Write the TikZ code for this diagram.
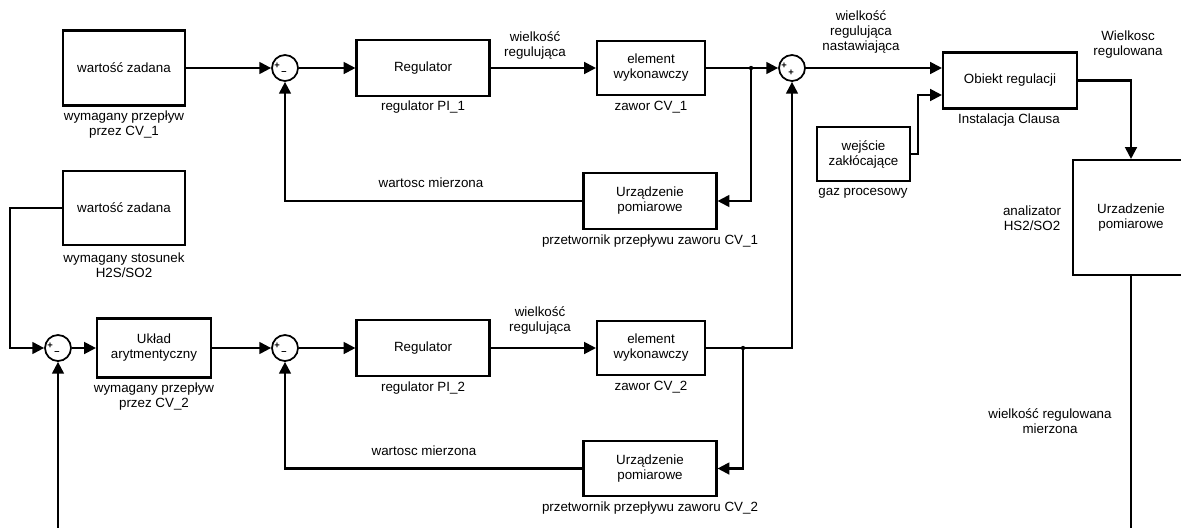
\documentclass[tikz,border=0pt]{standalone}
\usepackage{fontspec}
\setmainfont{Liberation Sans}
\usetikzlibrary{positioning, calc, arrows.meta}

\tikzset{
    block/.style={draw, line width=1.8pt, align=center, inner sep=0pt},
    sumnode/.style={draw, circle, line width=1.5pt, minimum size=0.78cm, inner sep=0pt},
    caption/.style={align=center, inner sep=0pt},
    sign/.style={font=\fontsize{8}{8}\selectfont\bfseries, inner sep=0pt},
    dotnode/.style={circle, fill, inner sep=0pt, minimum size=0.13cm},
    wire/.style={line width=1.8pt},
    arrowwire/.style={wire, -{Triangle[length=10pt, width=10pt]}},
}

\begin{document}
\begin{tikzpicture}[x=0.03cm, y=-0.03cm, font=\fontsize{11.4}{12.8}\selectfont]

    \useasboundingbox (0,0) rectangle (1181,527);
    \clip (0,0) rectangle (1181,527);
    \coordinate (bottomEdge) at (0,535);

    % ==========================================
    % UPPER LOOP: flow through CV_1
    % ==========================================
    \node[block, minimum width=3.66cm, minimum height=2.25cm] (setA) at (124,68) {wartość zadana};
    \node[sumnode] (sumA) at (285,68) {};
    \node[block, minimum width=3.99cm, minimum height=1.68cm] (regA) at (423,68) {Regulator};
    \node[block, minimum width=3.24cm, minimum height=1.62cm] (actA) at (651,68) {element\\wykonawczy};
    \node[dotnode] (jA) at (751,68) {};
    \node[block, minimum width=3.99cm, minimum height=1.68cm] (measA) at (650,201) {Urządzenie\\pomiarowe};
    \node[sumnode] (sumB) at (792,68) {};

    % signs of the summing points
    \node[sign] (sumAp) at ($(sumA)+(-8,-2)$) {+};
    \node[sign] (sumAm) at ($(sumA)+(-1,5)$) {--};
    \node[sign] (sumBp) at ($(sumB)+(-8,-2)$) {+};
    \node[sign] (sumBq) at ($(sumB)+(-1,5)$) {+};

    % captions
    \node[caption] (capSetA) at (124,125) {wymagany przepływ\\przez CV\_1};
    \node[caption] (capRegA) at (423,107) {regulator PI\_1};
    \node[caption] (capActA) at (651,107) {zawor CV\_1};
    \node[caption] (capMeasA) at (650,241) {przetwornik przepływu zaworu CV\_1};
    \node[caption] (lblUA) at (535,45) {wielkość\\regulująca};
    \node[caption] (lblMA) at (431,183) {wartosc mierzona};

    % connections
    \draw[arrowwire] (setA.east) -- (setA.east -| sumA.west);
    \draw[arrowwire] (sumA) -- (regA);
    \draw[arrowwire] (regA) -- (actA);
    \draw[wire] (actA) -- (jA);
    \draw[arrowwire] (jA) -- (sumB);
    \draw[arrowwire] (jA) |- (measA);
    \draw[arrowwire] (measA) -| (sumA);

    % ==========================================
    % PLANT AND ANALYSER
    % ==========================================
    \node[block, minimum width=4.02cm, minimum height=1.68cm] (plant) at (1010,80.5) {Obiekt regulacji};
    \node[block, minimum width=2.79cm, minimum height=1.62cm] (dist) at (863.5,154) {wejście\\zakłócające};
    \node[block, minimum width=3.48cm, minimum height=3.45cm] (analyser) at (1131,217.5) {Urzadzenie\\pomiarowe};
    \coordinate (plantIn) at ($(plant.west)+(0,14.5)$);

    \node[caption] (lblSet) at (861,32) {wielkość\\regulująca\\nastawiająca};
    \node[caption] (capPlant) at (1009,120) {Instalacja Clausa};
    \node[caption] (capDist) at (863,193) {gaz procesowy};
    \node[caption] (lblOut) at (1128,45) {Wielkosc\\regulowana};
    \node[caption] (capAnalyser) at (1032,218) {analizator\\HS2/SO2};
    \node[caption] (lblMeasOut) at (1050,421) {wielkość regulowana\\mierzona};

    \draw[arrowwire] (sumB.east) -- (sumB.east -| plant.west);
    \draw[arrowwire] (dist.east) -- ++(7,0) |- (plantIn);
    \draw[arrowwire] (plant.east) -| (analyser.north);
    \draw[wire] (analyser.south) -- (analyser.south |- bottomEdge);

    % ==========================================
    % LOWER LOOP: ratio H2S/SO2 and flow through CV_2
    % ==========================================
    \node[block, minimum width=3.66cm, minimum height=2.22cm] (setB) at (124,208) {wartość zadana};
    \node[sumnode] (sumC) at (58,348) {};
    \node[block, minimum width=3.42cm, minimum height=1.77cm] (arith) at (154,348) {Układ\\arytmentyczny};
    \node[sumnode] (sumD) at (285,348) {};
    \node[block, minimum width=3.99cm, minimum height=1.68cm] (regB) at (423,348) {Regulator};
    \node[block, minimum width=3.24cm, minimum height=1.62cm] (actB) at (651,348) {element\\wykonawczy};
    \node[dotnode] (jB) at (743,348) {};
    \node[block, minimum width=3.99cm, minimum height=1.65cm] (measB) at (650,468.5) {Urządzenie\\pomiarowe};

    \node[sign] (sumCp) at ($(sumC)+(-8,-2)$) {+};
    \node[sign] (sumCm) at ($(sumC)+(-1,5)$) {--};
    \node[sign] (sumDp) at ($(sumD)+(-8,-2)$) {+};
    \node[sign] (sumDm) at ($(sumD)+(-1,5)$) {--};

    \node[caption] (capSetB) at (124,265) {wymagany stosunek\\H2S/SO2};
    \node[caption] (capArith) at (154,397) {wymagany przepływ\\przez CV\_2};
    \node[caption] (capRegB) at (423,388) {regulator PI\_2};
    \node[caption] (capActB) at (651,387) {zawor CV\_2};
    \node[caption] (capMeasB) at (650,508) {przetwornik przepływu zaworu CV\_2};
    \node[caption] (lblUB) at (540,320) {wielkość\\regulująca};
    \node[caption] (lblMB) at (424,451) {wartosc mierzona};

    \draw[arrowwire] (setB.west) -- ++(-52,0) |- (sumC);
    \draw[arrowwire] (sumC |- bottomEdge) -- (sumC);
    \draw[arrowwire] (sumC) -- (arith);
    \draw[arrowwire] (arith) -- (sumD);
    \draw[arrowwire] (sumD) -- (regB);
    \draw[arrowwire] (regB) -- (actB);
    \draw[wire] (actB) -- (jB);
    \draw[arrowwire] (jB) -| (sumB);
    \draw[arrowwire] (jB) |- (measB);
    \draw[arrowwire] (measB) -| (sumD);

\end{tikzpicture}
\end{document}
